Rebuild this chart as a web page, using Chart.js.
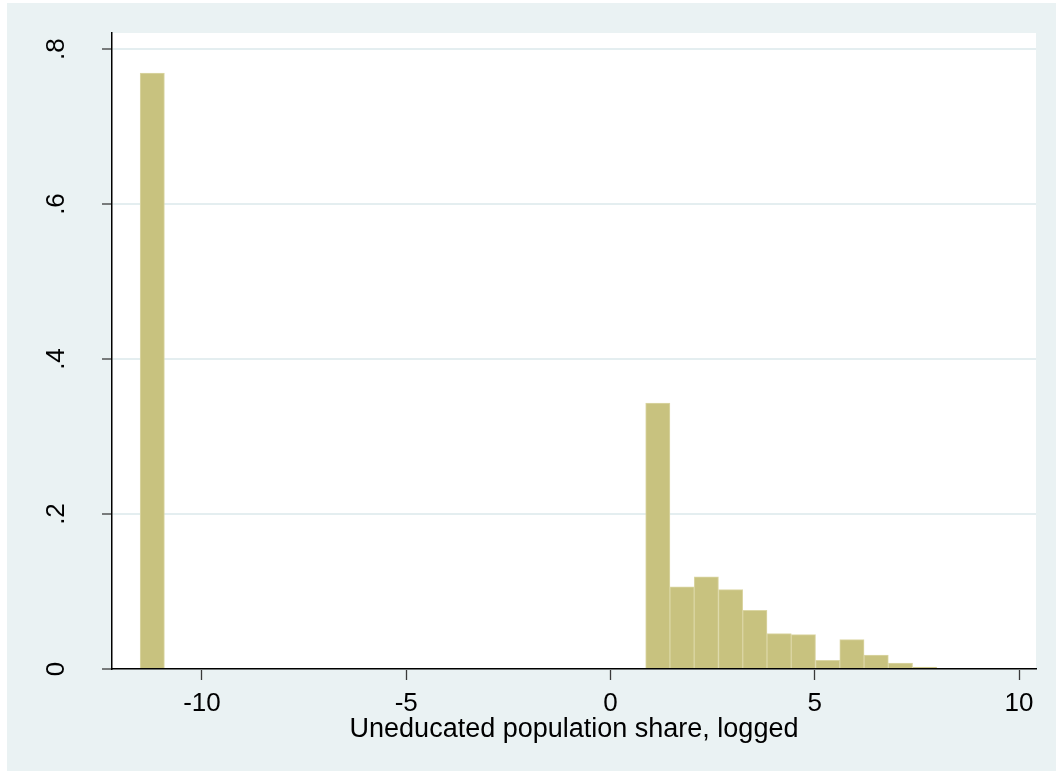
<!DOCTYPE html>
<html>
<head>
<meta charset="utf-8">
<script src="https://cdn.jsdelivr.net/npm/chart.js@4/dist/chart.umd.min.js"></script>
<style>
  html, body { margin: 0; padding: 0; background: #ffffff; overflow: hidden; }
  #wrap { width: 1056px; height: 771px; overflow: hidden; }
  canvas { display: block; }
</style>
</head>
<body>
<div id="wrap"><canvas id="c" width="1056" height="771"></canvas></div>
<script>
// ---- data ----
const binCenters = [-11.217, 1.158, 1.752, 2.346, 2.940, 3.534, 4.128, 4.722, 5.316, 5.910, 6.504, 7.098, 7.692];
const densities  = [0.769, 0.343, 0.106, 0.119, 0.1025, 0.0758, 0.0457, 0.0444, 0.0112, 0.0379, 0.0181, 0.0075, 0.0025];
const xTickValues = [-10, -5, 0, 5, 10];
const xTickLabels = ['-10', '-5', '0', '5', '10'];
const yTickValues = [0, 0.2, 0.4, 0.6, 0.8];
const yTickLabels = ['0', '.2', '.4', '.6', '.8'];
const xTitle = 'Uneducated population share, logged';
const xRange = [-12.203, 10.416];
const yRange = [0, 0.8207];

const bgColor = '#eaf2f3';
const gridColor = '#e4eef0';
const barFill = 'rgb(200,194,127)';
const barEdge = 'rgb(219,214,164)';
const fontFamily = '"Liberation Sans", Arial, sans-serif';

const bgPlugin = {
  id: 'bg',
  beforeDraw(chart) {
    const ctx = chart.ctx, a = chart.chartArea;
    ctx.save();
    ctx.fillStyle = '#ffffff';
    ctx.fillRect(0, 0, chart.width, chart.height);
    ctx.fillStyle = bgColor;
    ctx.fillRect(7, 3, chart.width - 7, chart.height - 3);
    ctx.fillStyle = '#ffffff';
    ctx.fillRect(a.left, a.top, a.right - a.left, a.bottom - a.top);
    ctx.restore();
  }
};

new Chart(document.getElementById('c'), {
  type: 'bar',
  data: {
    datasets: [{
      data: binCenters.map((x, i) => ({ x: x, y: densities[i] })),
      backgroundColor: barFill,
      borderColor: barEdge,
      borderWidth: 1,
      borderSkipped: 'start',
      categoryPercentage: 1.0,
      barPercentage: 1.0
    }]
  },
  plugins: [bgPlugin],
  options: {
    responsive: false,
    animation: false,
    devicePixelRatio: 1,
    layout: { padding: { left: 0, top: 33, right: 20, bottom: 0 } },
    plugins: { legend: { display: false }, tooltip: { enabled: false } },
    scales: {
      x: {
        type: 'linear',
        offset: false,
        min: xRange[0],
        max: xRange[1],
        afterBuildTicks(scale) { scale.ticks = xTickValues.map(v => ({ value: v })); },
        afterFit(scale) { scale.height = 102; scale.paddingLeft = 0; scale.paddingRight = 0; },
        ticks: {
          autoSkip: false,
          maxRotation: 0,
          minRotation: 0,
          padding: 8,
          color: '#000000',
          font: { family: fontFamily, size: 26 },
          callback: (v) => xTickLabels[xTickValues.indexOf(v)]
        },
        grid: {
          offset: false,
          drawOnChartArea: false,
          drawTicks: true,
          tickLength: 11,
          tickColor: '#3a3a3a',
          tickWidth: 1.3
        },
        border: { display: true, color: '#000000', width: 1.5 },
        title: {
          display: true,
          text: xTitle,
          color: '#000000',
          font: { family: fontFamily, size: 27 },
          padding: { top: 0, bottom: 25 }
        }
      },
      y: {
        type: 'linear',
        min: yRange[0],
        max: yRange[1],
        afterBuildTicks(scale) { scale.ticks = yTickValues.map(v => ({ value: v })); },
        afterFit(scale) { scale.width = 112; scale.paddingTop = 0; scale.paddingBottom = 0; },
        ticks: {
          autoSkip: false,
          minRotation: 90,
          maxRotation: 90,
          crossAlign: 'center',
          padding: 34,
          color: '#000000',
          font: { family: fontFamily, size: 26 },
          callback: (v) => yTickLabels[yTickValues.indexOf(v)]
        },
        grid: {
          offset: false,
          color: gridColor,
          lineWidth: 2,
          drawTicks: true,
          tickLength: 10,
          tickColor: '#3a3a3a',
          tickWidth: 1.3
        },
        border: { display: true, color: '#000000', width: 1.5 }
      }
    }
  }
});
</script>
</body>
</html>
